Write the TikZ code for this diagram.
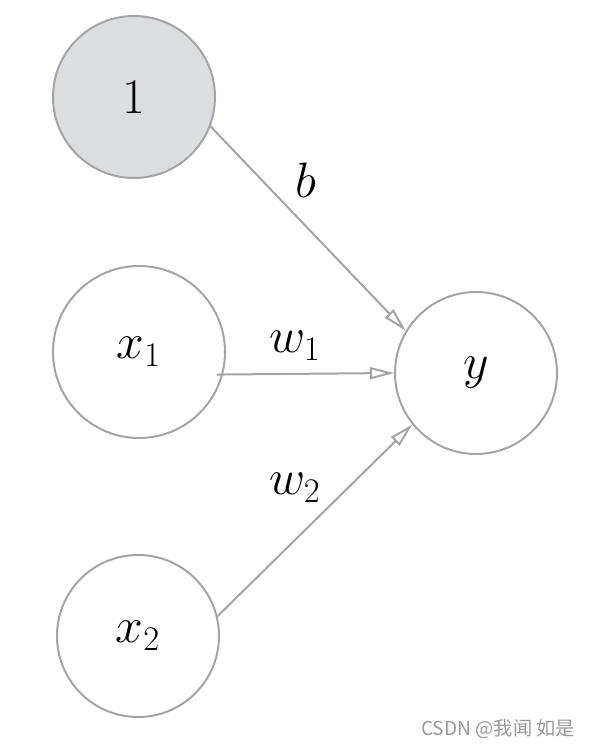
\documentclass[tikz,border=0pt]{standalone}
\usepackage{fontspec}
\usepackage{amsmath}
\usetikzlibrary{arrows.meta}
\newfontfamily\cjk{Noto Sans CJK SC}
\definecolor{edgegray}{HTML}{A4A4A6}
\definecolor{biasfill}{HTML}{DCDDDF}

\begin{document}
\begin{tikzpicture}[
  x=0.5pt,y=-0.5pt,
  neuron/.style={circle, draw=edgegray, line width=1pt, inner sep=0pt,
    font=\fontsize{24}{28}\selectfont},
  arr/.style={draw=edgegray, line width=1pt,
    -{Triangle[open, length=12pt, width=6pt]}},
  wlabel/.style={font=\fontsize{24}{28}\selectfont}
]
\useasboundingbox (0,0) rectangle (589,747);

\node[neuron, minimum size=162*0.5pt, fill=biasfill] (one) at (134,97) {$1$};
\node[neuron, minimum size=172*0.5pt] (x1) at (139,352) {$x_1$};
\node[neuron, minimum size=162*0.5pt] (x2) at (138,636) {$x_2$};
\node[neuron, minimum size=162*0.5pt] (y) at (476,373) {$y$};

\draw[arr] (one.-21) -- (y.149);
\draw[arr, shorten <=-3pt] (x1.-15) -- (y.west);
\draw[arr] (x2.14) -- (y.219);

\node[wlabel] (b) at (306,180) {$b$};
\node[wlabel] (w1) at (295,346) {$w_1$};
\node[wlabel] (w2) at (295,488) {$w_2$};

\node[font=\cjk\fontsize{9.6}{11}\selectfont, text=black!40] (mark) at (498,729) {CSDN @我闻 如是};
\end{tikzpicture}
\end{document}
